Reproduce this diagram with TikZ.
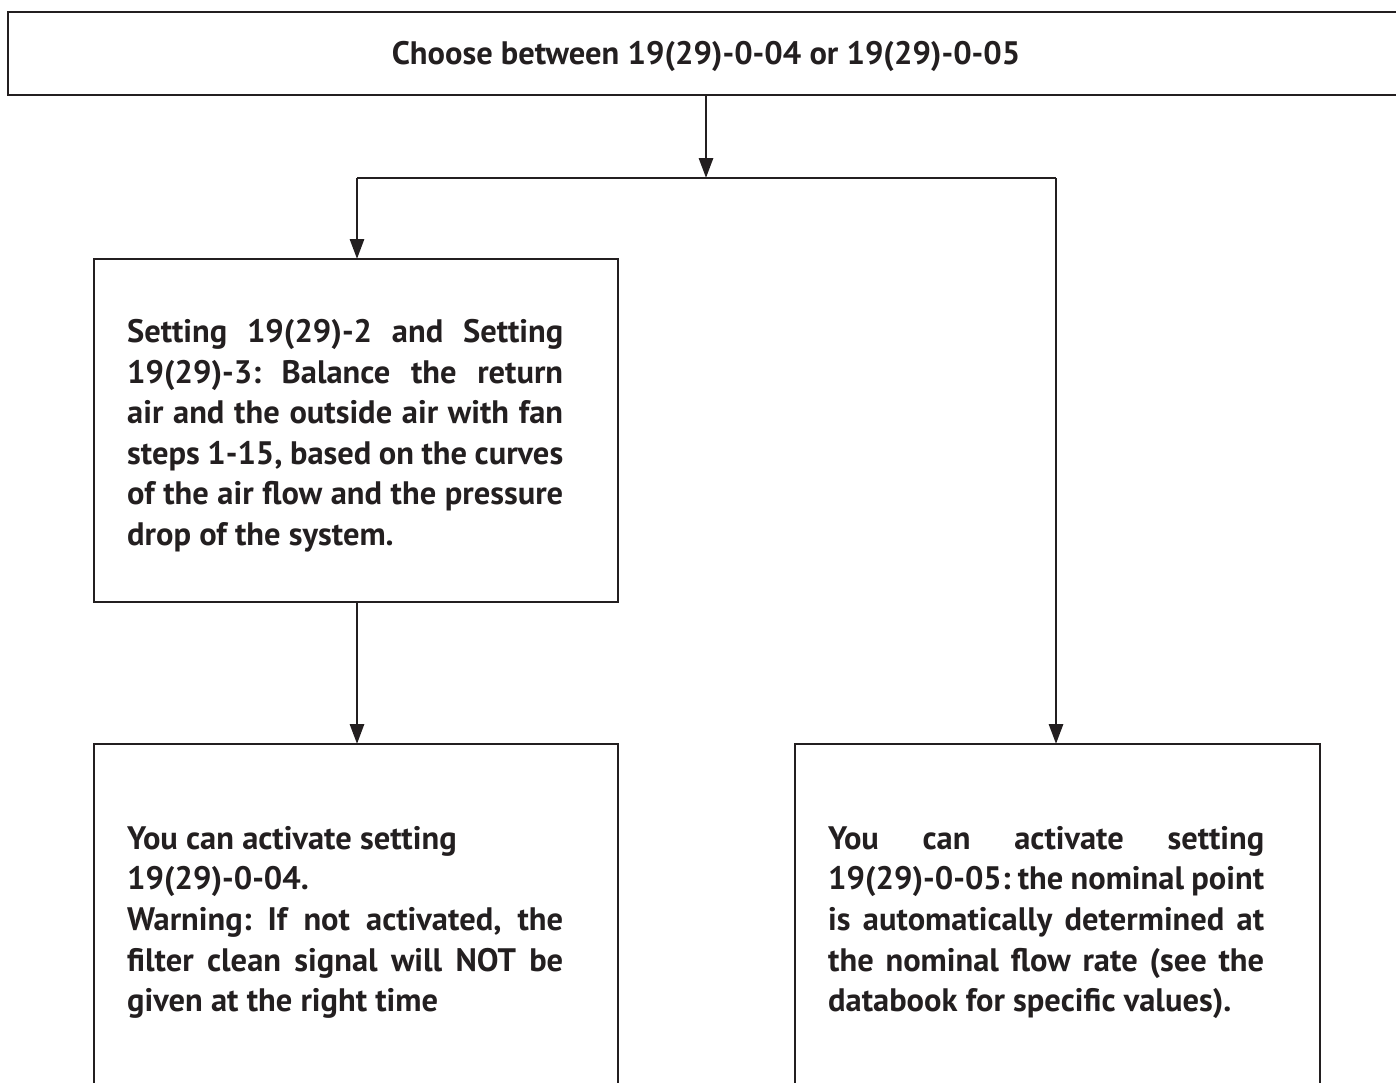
\documentclass[tikz,border=0pt]{standalone}
\usepackage{fontspec}
\setmainfont{PT Sans}
\usetikzlibrary{arrows.meta}
\definecolor{ink}{RGB}{35,31,32}
\tikzset{
  boxline/.style={draw=ink, line width=2.9pt},
  conn/.style={draw=ink, line width=2.9pt, -{Triangle[width=14pt,length=20pt]}},
  plain/.style={draw=ink, line width=2.9pt},
  bigfont/.style={font=\fontsize{32.5}{40.6}\selectfont\bfseries\frenchspacing},
  txt/.style={text=ink, bigfont, inner sep=0pt, align=justify, text width=436pt, anchor=north west},
}
\begin{document}
\begin{tikzpicture}[x=1pt,y=-1pt]
\useasboundingbox (0,0) rectangle (1396,1082);
% boxes
\draw[boxline] (8,12) rectangle (1410,95);
\node[text=ink, bigfont, inner sep=0pt] (title) at (706,56) {Choose between 19(29)-0-04 or 19(29)-0-05};
\coordinate (topb) at (706,95);
\coordinate (junc) at (706,178);
\coordinate (jl) at (357,178);
\coordinate (jr) at (1056,178);
\draw[boxline] (94,259) rectangle (618,602);
\coordinate (b1t) at (357,259);
\coordinate (b1b) at (357,602);
\draw[boxline] (94,744) rectangle (618,1100);
\coordinate (b2t) at (357,744);
\draw[boxline] (795,744) rectangle (1320,1100);
\coordinate (b3t) at (1056,744);
% texts
\node[txt] (t1) at (127,319) {Setting 19(29)-2 and Setting\linebreak 19(29)-3: Balance the return\linebreak air and the outside air with fan\linebreak steps 1-15, based on the curves\linebreak of the air flow and the pressure\linebreak drop of the system.};
\node[txt] (t2) at (127,826) {You can activate setting\\19(29)-0-04.\\Warning: If not activated, the\linebreak filter clean signal will NOT be\linebreak given at the right time};
\node[txt] (t3) at (828,826) {You can activate setting\linebreak 19(29)-0-05: the nominal point\linebreak is automatically determined at\linebreak the nominal flow rate (see the\linebreak databook for specific values).};
% connectors
\draw[conn] (topb) -- (junc);
\draw[plain] (jl) -- (jr);
\draw[conn] (jl) -- (b1t);
\draw[conn] (jr) -- (b3t);
\draw[conn] (b1b) -- (b2t);
\end{tikzpicture}
\end{document}
